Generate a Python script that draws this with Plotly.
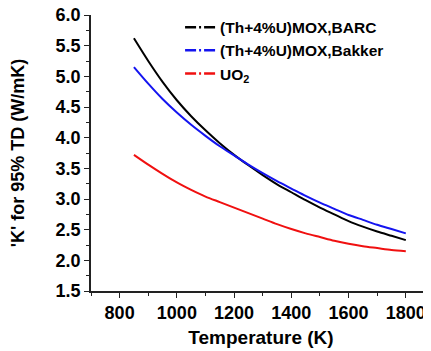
import plotly.graph_objects as go

temperature = [850, 900, 950, 1000, 1050, 1100, 1150, 1200, 1250, 1300,
               1350, 1400, 1450, 1500, 1550, 1600, 1650, 1700, 1750, 1800]
k_barc = [5.62, 5.25, 4.91, 4.61, 4.35, 4.12, 3.91, 3.72, 3.55, 3.39,
          3.24, 3.11, 2.98, 2.86, 2.75, 2.64, 2.55, 2.47, 2.40, 2.33]
k_bakker = [5.15, 4.88, 4.63, 4.41, 4.21, 4.03, 3.86, 3.71, 3.56, 3.42,
            3.29, 3.17, 3.05, 2.94, 2.84, 2.74, 2.66, 2.58, 2.51, 2.44]
k_uo2 = [3.72, 3.56, 3.41, 3.27, 3.15, 3.04, 2.95, 2.86, 2.77, 2.68,
         2.59, 2.51, 2.44, 2.38, 2.32, 2.27, 2.23, 2.20, 2.17, 2.15]

names = ["<b>(Th+4%U)MOX,BARC</b>", "<b>(Th+4%U)MOX,Bakker</b>", "<b>UO<sub>2</sub></b>"]
colors = ["#000000", "#1414f0", "#f01010"]
series = [k_barc, k_bakker, k_uo2]

y_ticks = [1.5, 2.0, 2.5, 3.0, 3.5, 4.0, 4.5, 5.0, 5.5, 6.0]
y_ticktext = ["1.5", "2.0", "2.5", "3.0", "3.5", "4.0", "4.5", "5.0", "5.5", "6.0"]
x_ticks = [800, 1000, 1200, 1400, 1600, 1800]
x_minor = [700, 900, 1100, 1300, 1500, 1700]

FONT = "Liberation Sans, Arial, sans-serif"

fig = go.Figure()
for ys, c in zip(series, colors):
    fig.add_trace(go.Scatter(x=temperature, y=ys, mode="lines",
                             line=dict(color=c, width=2, shape="spline", smoothing=0.8),
                             showlegend=False))
for n, c in zip(names, colors):
    fig.add_trace(go.Scatter(x=[None], y=[None], mode="lines", name=n,
                             line=dict(color=c, width=2.5, dash="11px,3px,2px,3px")))

fig.update_layout(
    width=423, height=343,
    margin=dict(l=83, r=0, t=7, b=60, autoexpand=False),
    paper_bgcolor="white", plot_bgcolor="white",
    font=dict(family=FONT, color="#000000"),
    legend=dict(x=0.262, y=1.016, xanchor="left", yanchor="top",
                bgcolor="rgba(0,0,0,0)", font=dict(size=15.5, family=FONT),
                tracegroupgap=0, itemwidth=30),
    xaxis=dict(range=[700, 1888], tickvals=x_ticks,
               automargin=False, ticklabeloverflow="allow",
               ticks="outside", ticklen=5, tickwidth=1.3, tickcolor="#222",
               showline=True, linecolor="#222", linewidth=1.5,
               showgrid=False, zeroline=False,
               minor=dict(tickvals=x_minor, ticks="outside",
                          ticklen=3, tickcolor="#222", tickwidth=1.2),
               tickfont=dict(size=18, family=FONT, weight="bold"),
               title=dict(text="<b>Temperature (K)</b>", font=dict(size=19, family=FONT),
                          standoff=8)),
    yaxis=dict(range=[1.5, 6.0], tickvals=y_ticks, ticktext=y_ticktext,
               automargin=False, ticklabeloverflow="allow",
               ticks="outside", ticklen=5, tickwidth=1.3, tickcolor="#222",
               showline=True, linecolor="#222", linewidth=1.5,
               showgrid=False, zeroline=False,
               minor=dict(dtick=0.25, ticks="outside", ticklen=3, tickcolor="#222", tickwidth=1.2),
               tickfont=dict(size=18, family=FONT, weight="bold"),
               title=dict(text="<b>'K' for 95% TD (W/mK)</b>", font=dict(size=18, family=FONT),
                          standoff=30)),
)

fig.write_html("out.html")
